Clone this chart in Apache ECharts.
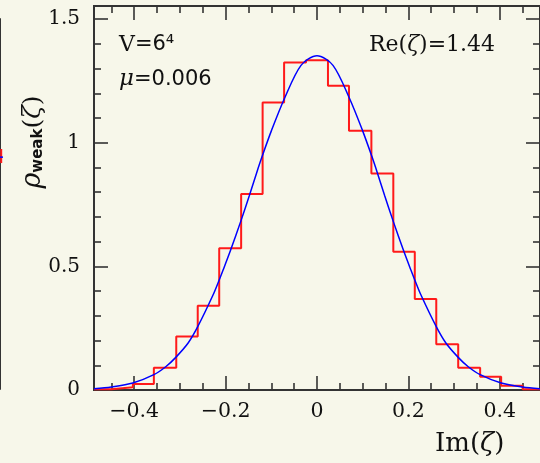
<!DOCTYPE html>
<html>
<head>
<meta charset="utf-8">
<script src="https://cdn.jsdelivr.net/npm/echarts@6/dist/echarts.min.js"></script>
<style>
html,body{margin:0;padding:0;background:#f7f7ea;}
#c{width:540px;height:463px;}
</style>
</head>
<body>
<div id="c"></div>
<script>
// ---- data ----
const xRange = [-0.488, 0.488];
const yRange = [0, 1.553];
const xMajorTicks = [-0.4, -0.2, 0, 0.2, 0.4];
const xMinorTicks = [-0.45, -0.35, -0.3, -0.25, -0.15, -0.1, -0.05, 0.05, 0.1, 0.15, 0.25, 0.3, 0.35, 0.45];
const yMajorTicks = [0, 0.5, 1, 1.5];
const yMinorTicks = [0.1, 0.2, 0.3, 0.4, 0.6, 0.7, 0.8, 0.9, 1.1, 1.2, 1.3, 1.4];

// histogram bin edges and heights (red step line)
const binEdges = [-0.488, -0.450, -0.403, -0.357, -0.308, -0.261, -0.214, -0.166, -0.119, -0.072, -0.024,
                  0.024, 0.070, 0.119, 0.167, 0.214, 0.261, 0.309, 0.357, 0.403, 0.450, 0.488];
const binHeights = [0.003, 0.011, 0.024, 0.090, 0.216, 0.341, 0.573, 0.793, 1.163, 1.325, 1.334,
                    1.230, 1.048, 0.876, 0.559, 0.368, 0.185, 0.090, 0.054, 0.017, 0.003];

// fitted curve (blue)
const curveX = [-0.488, -0.450, -0.403, -0.357, -0.331, -0.309, -0.282, -0.261, -0.2273, -0.214, -0.2055, -0.189,
                -0.1665, -0.148, -0.1325, -0.120, -0.0997, -0.071, -0.035, 0,
                0.035, 0.071, 0.0997, 0.120, 0.1325, 0.148, 0.1665, 0.189, 0.2055, 0.214, 0.2273, 0.261,
                0.282, 0.309, 0.331, 0.357, 0.403, 0.450, 0.488];
const curveY = [0.005, 0.012, 0.028, 0.062, 0.094, 0.132, 0.190, 0.256, 0.385, 0.445, 0.485, 0.566,
                0.684, 0.787, 0.876, 0.945, 1.049, 1.180, 1.313, 1.352,
                1.313, 1.180, 1.049, 0.945, 0.876, 0.787, 0.684, 0.566, 0.485, 0.445, 0.385, 0.256,
                0.190, 0.132, 0.094, 0.062, 0.028, 0.012, 0.005];

// partial neighbouring panel at the left edge
const leftPanelRange = [0, 15];
const leftPanelRed = [[0.4, 9.16], [0.4, 9.73]];
const leftPanelBlue = [[0, 9.4], [1, 9.4]];

// ---- build chart ----
const frame = '#333333';
const serif = 'DejaVu Serif';
const sans = 'DejaVu Sans';
const fmt = v => {
  if (Math.abs(v) < 1e-9) return '0';
  let s = String(Math.round(v * 1000) / 1000);
  return s.replace('-', '\u2212');
};

function xAx(pos, ticks, len, labels) {
  return {
    type: 'value', gridIndex: 0, position: pos, min: xRange[0], max: xRange[1],
    axisLine: { show: true, onZero: false, lineStyle: { color: frame, width: 2 } },
    axisTick: { show: true, inside: true, length: len, customValues: ticks, lineStyle: { color: frame, width: 1.6 } },
    axisLabel: labels ? { show: true, customValues: ticks, formatter: fmt, margin: 11,
      fontFamily: serif, fontSize: 20.5, color: '#111' } : { show: false },
    splitLine: { show: false }
  };
}
function yAx(pos, ticks, len, labels) {
  return {
    type: 'value', gridIndex: 0, position: pos, min: yRange[0], max: yRange[1],
    axisLine: { show: true, onZero: false, lineStyle: { color: frame, width: 2 } },
    axisTick: { show: true, inside: true, length: len, customValues: ticks, lineStyle: { color: frame, width: 1.6 } },
    axisLabel: labels ? { show: true, customValues: ticks, formatter: fmt, margin: 14,
      fontFamily: serif, fontSize: 20, color: '#111' } : { show: false },
    splitLine: { show: false }
  };
}

const stepData = binEdges.map((e, i) => [e, binHeights[Math.min(i, binHeights.length - 1)]]);
const curveData = curveX.map((x, i) => [x, curveY[i]]);

const chart = echarts.init(document.getElementById('c'), null, { renderer: 'canvas' });
chart.setOption({
  backgroundColor: '#f7f7ea',
  animation: false,
  grid: [
    { left: 94, top: 6, right: -1, bottom: 73, containLabel: false },
    { left: 0, top: 19, width: 3, bottom: 74, containLabel: false }
  ],
  xAxis: [
    xAx('bottom', xMajorTicks, 14, true),
    xAx('bottom', xMinorTicks, 7, false),
    xAx('top', xMajorTicks, 14, false),
    xAx('top', xMinorTicks, 7, false),
    { type: 'value', gridIndex: 1, min: 0, max: 1, show: false }
  ],
  yAxis: [
    yAx('left', yMajorTicks, 14, true),
    yAx('left', yMinorTicks, 7, false),
    yAx('right', yMajorTicks, 14, false),
    yAx('right', yMinorTicks, 7, false),
    { type: 'value', gridIndex: 1, position: 'right', min: leftPanelRange[0], max: leftPanelRange[1], interval: 1,
      axisLine: { show: true, lineStyle: { color: frame, width: 2 } },
      axisTick: { show: true, inside: true, length: 6, lineStyle: { color: frame, width: 1.4 } },
      axisLabel: { show: false }, splitLine: { show: false } }
  ],
  series: [
    { type: 'line', xAxisIndex: 0, yAxisIndex: 0, data: stepData, step: 'end', symbol: 'none',
      lineStyle: { color: '#ff1a1a', width: 2 }, z: 3 },
    { type: 'line', xAxisIndex: 0, yAxisIndex: 0, data: curveData, smooth: 0.3, symbol: 'none',
      lineStyle: { color: '#0000ff', width: 1.5 }, z: 4 },
    { type: 'line', xAxisIndex: 4, yAxisIndex: 4, data: leftPanelRed, symbol: 'none', clip: false,
      lineStyle: { color: '#ff1a1a', width: 2 } },
    { type: 'line', xAxisIndex: 4, yAxisIndex: 4, data: leftPanelBlue, symbol: 'none', clip: false,
      lineStyle: { color: '#0000ff', width: 1.5 } }
  ],
  graphic: [
    { type: 'text', left: 119, top: 34, style: {
      text: '{a|V}{b|=6⁴}', rich: {
        a: { fontFamily: serif, fontSize: 22, fill: '#111' },
        b: { fontFamily: sans, fontSize: 21, fill: '#111' } } } },
    { type: 'text', left: 119, top: 68, style: {
      text: '{a|μ}{b|=0.006}', rich: {
        a: { fontFamily: serif, fontStyle: 'italic', fontSize: 23, fill: '#111' },
        b: { fontFamily: sans, fontSize: 21, fill: '#111' } } } },
    { type: 'text', left: 369, top: 34, style: {
      text: '{a|Re(}{z|ζ}{a|)=1.44}', rich: {
        a: { fontFamily: serif, fontSize: 22, fill: '#111' },
        z: { fontFamily: serif, fontStyle: 'italic', fontSize: 22, fill: '#111' } } } },
    { type: 'text', x: 33, y: 142, rotation: Math.PI / 2, style: {
      text: '{r|ρ}{w|weak}{a|(}{z|ζ}{a|)}', align: 'center', verticalAlign: 'middle', rich: {
        r: { fontFamily: serif, fontStyle: 'italic', fontSize: 27, fill: '#111' },
        w: { fontFamily: sans, fontWeight: 'bold', fontSize: 15, fill: '#111', padding: [10, 0, 0, 0] },
        a: { fontFamily: serif, fontSize: 25, fill: '#111' },
        z: { fontFamily: serif, fontStyle: 'italic', fontSize: 25, fill: '#111' } } } },
    { type: 'text', left: 435, top: 431, style: {
      text: '{a|Im(}{z|ζ}{a|)}', rich: {
        a: { fontFamily: serif, fontSize: 26, fill: '#111' },
        z: { fontFamily: serif, fontStyle: 'italic', fontSize: 26, fill: '#111' } } } }
  ]
});
</script>
</body>
</html>
